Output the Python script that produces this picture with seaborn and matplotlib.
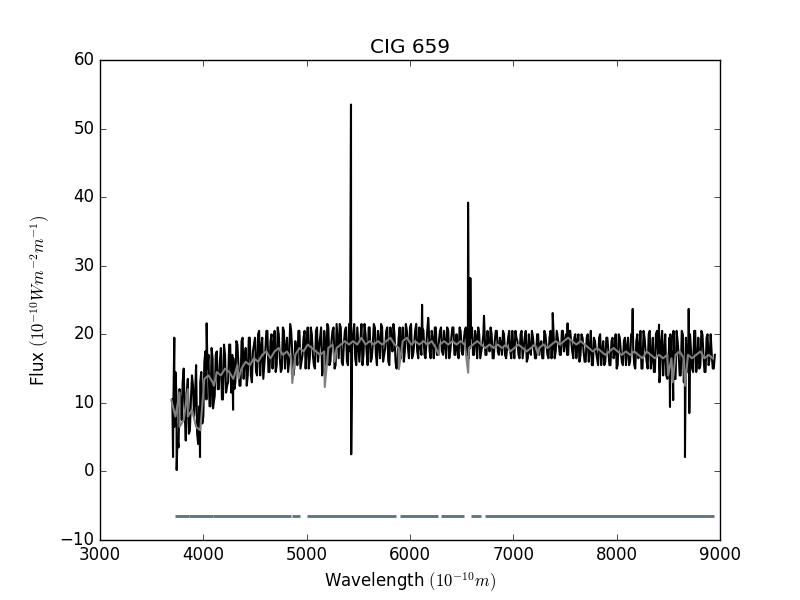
import numpy as np
import pandas as pd
import matplotlib
matplotlib.use('Agg')
import matplotlib.pyplot as plt
import seaborn as sns

plt.style.use('classic')

# observed spectrum, every 20 A from 3710 to 8950
obs_wave = np.arange(3710, 8951, 20)
obs_flux = [
    9.5, 14.5, 5.0, 12.0, 7.5, 15.0, 4.5, 13.5, 6.0, 14.0,      # 3710-3890
    8.0, 15.5, 4.0, 13.0, 7.0, 16.0, 10.5, 17.0, 9.5, 16.5,     # 3910-4090
    11.0, 17.5, 12.0, 18.0, 10.5, 17.0, 12.5, 18.5, 11.5, 16.5, # 4110-4290
    13.0, 18.5, 12.5, 19.0, 13.5, 18.0, 14.0, 19.5, 13.0, 18.5, # 4310-4490
    14.5, 20.0, 14.0, 19.5, 15.5, 20.5, 14.5, 19.0, 15.0, 20.5, # 4510-4690
    15.5, 20.0, 14.5, 21.0, 15.0, 19.5, 16.0, 20.5, 14.0, 19.0, # 4710-4890
    15.5, 20.5, 16.0, 19.5, 15.0, 21.0, 16.5, 20.0, 15.5, 20.5, # 4910-5090
    16.0, 19.5, 14.0, 20.5, 15.5, 21.0, 16.0, 20.5, 15.0, 21.5, # 5110-5290
    16.5, 21.0, 15.5, 20.5, 16.0, 21.5, 15.0, 20.0, 16.5, 21.0, # 5310-5490
    16.0, 21.5, 17.0, 20.0, 15.5, 21.0, 16.5, 21.5, 17.0, 20.5, # 5510-5690
    16.5, 21.0, 17.0, 20.5, 16.0, 21.0, 17.5, 20.0, 15.0, 19.5, # 5710-5890
    16.5, 21.0, 17.5, 20.5, 16.5, 21.5, 17.0, 20.5, 17.5, 21.0, # 5910-6090
    17.0, 20.5, 16.5, 21.0, 17.5, 20.5, 16.5, 21.0, 17.0, 20.5, # 6110-6290
    17.5, 20.5, 16.5, 20.5, 17.5, 21.0, 17.0, 20.0, 16.5, 20.5, # 6310-6490
    17.0, 20.5, 17.5, 16.5, 19.5, 17.0, 20.5, 16.5, 20.0, 17.5, # 6510-6690
    20.0, 17.0, 20.5, 17.5, 20.0, 16.5, 20.5, 17.5, 19.5, 17.0, # 6710-6890
    20.0, 16.5, 19.5, 17.5, 20.5, 16.5, 19.5, 17.0, 20.0, 16.5, # 6910-7090
    19.5, 16.0, 20.0, 17.0, 19.5, 16.5, 20.0, 17.0, 19.0, 16.5, # 7110-7290
    20.0, 17.0, 19.5, 16.5, 20.0, 17.5, 19.5, 17.0, 20.5, 17.5, # 7310-7490
    20.0, 17.0, 20.5, 17.5, 19.5, 16.5, 20.0, 17.0, 19.5, 16.0, # 7510-7690
    19.5, 16.0, 20.5, 15.5, 19.0, 16.5, 19.5, 15.5, 19.0, 16.0, # 7710-7890
    19.5, 15.5, 19.0, 16.5, 20.0, 15.5, 19.5, 16.0, 19.0, 15.5, # 7910-8090
    19.5, 16.0, 20.0, 15.5, 19.0, 16.5, 20.5, 15.0, 19.5, 16.0, # 8110-8290
    20.0, 15.0, 19.5, 14.5, 20.5, 15.5, 19.0, 14.0, 20.0, 13.5, # 8310-8490
    19.5, 14.5, 20.5, 13.5, 19.0, 14.0, 20.5, 13.0, 19.5, 14.5, # 8510-8690
    20.0, 15.0, 20.5, 14.5, 19.5, 15.5, 20.0, 14.5, 19.5, 15.5, # 8710-8890
    20.0, 15.0, 17.0,                                           # 8910-8950
]

# in-between samples of the observed spectrum, 3720 to 8940
mid_wave = np.arange(3720, 8941, 20)
mid_flux = [
    6.5, 11.0, 3.5, 10.0, 13.0, 8.5, 11.5, 5.5, 10.5, 12.5,     # 3720-3900
    11.0, 5.5, 9.5, 14.5, 8.0, 17.5, 15.0, 9.5, 18.0, 10.0,     # 3920-4100
    17.0, 12.0, 16.0, 10.5, 18.5, 11.5, 13.0, 18.5, 17.0, 12.0, # 4120-4300
    19.0, 15.5, 12.5, 19.5, 16.5, 12.5, 19.5, 14.0, 17.5, 19.5, # 4320-4500
    14.0, 20.5, 18.0, 13.5, 17.5, 20.5, 14.5, 20.0, 18.5, 14.5, # 4520-4700
    21.0, 16.5, 15.0, 20.5, 18.0, 14.5, 21.5, 17.5, 15.0, 17.5, # 4720-4900
    20.5, 15.0, 17.0, 20.5, 18.5, 15.0, 21.0, 17.0, 15.0, 21.0, # 4920-5100
    18.0, 21.0, 15.0, 18.5, 21.5, 15.5, 19.0, 21.0, 15.5, 19.0, # 5120-5300
    21.5, 16.0, 18.5, 21.0, 15.5, 17.5, 18.0, 21.5, 15.5, 18.5, # 5320-5500
    19.0, 15.5, 21.5, 17.5, 21.0, 16.0, 18.5, 21.0, 15.5, 19.0, # 5520-5700
    21.5, 16.0, 18.0, 21.0, 15.5, 19.5, 21.5, 16.0, 16.5, 21.0, # 5720-5900
    19.0, 16.0, 21.5, 18.0, 21.0, 16.5, 18.5, 21.5, 16.5, 18.5, # 5920-6100
    21.0, 17.0, 19.0, 21.5, 16.5, 19.0, 21.0, 17.0, 19.0, 21.0, # 6120-6300
    17.0, 18.5, 21.0, 16.5, 19.5, 21.0, 17.0, 18.0, 21.0, 17.5, # 6320-6500
    19.0, 21.0, 17.0, 18.0, 21.0, 17.0, 19.5, 21.0, 16.5, 18.5, # 6520-6700
    21.0, 17.0, 18.5, 21.0, 16.5, 19.0, 20.5, 17.0, 18.5, 20.5, # 6720-6900
    17.0, 18.0, 20.5, 16.5, 18.0, 20.5, 19.0, 16.5, 20.5, 18.0, # 6920-7100
    20.5, 16.5, 17.5, 20.5, 18.0, 16.5, 20.0, 18.5, 16.5, 20.5, # 7120-7300
    18.5, 16.5, 20.5, 19.0, 16.5, 20.5, 18.5, 17.0, 20.5, 19.0, # 7320-7500
    17.0, 20.5, 19.0, 16.5, 20.0, 19.0, 16.0, 20.0, 17.5, 16.0, # 7520-7700
    20.0, 18.0, 15.5, 19.5, 17.5, 15.5, 20.0, 17.5, 15.5, 19.5, # 7720-7900
    17.5, 15.5, 19.5, 17.5, 15.0, 20.0, 17.5, 15.5, 19.5, 18.0, # 7920-8100
    15.5, 20.0, 18.0, 15.0, 20.0, 17.5, 15.0, 20.5, 17.5, 15.0, # 8120-8300
    20.5, 16.5, 14.5, 20.0, 17.0, 14.0, 20.5, 17.5, 14.0, 15.5, # 8320-8500
    20.0, 17.5, 13.5, 20.5, 17.0, 14.0, 20.0, 16.5, 15.5, 20.5, # 8520-8700
    17.5, 14.5, 20.5, 16.0, 15.0, 20.5, 17.0, 14.5, 20.0, 16.5, # 8720-8900
    17.0, 15.0,                                                 # 8920-8940
]

# narrow features / spikes in the observed spectrum
spike_wave = [3700, 3707, 3719, 3742, 3968, 4032, 4094, 4288, 5429, 5431,
              6117, 6176, 6562, 6572, 6584, 6716, 7381, 7525, 8155, 8410,
              8414, 8516, 8547, 8661, 8697, 8703]
spike_flux = [10.5, 2.1, 19.5, 0.2, 2.1, 21.6, 9.2, 9.0, 53.5, 2.5,
              24.3, 22.4, 39.2, 18.0, 28.2, 22.7, 23.1, 21.6, 23.7, 21.4,
              13.0, 9.4, 10.4, 2.1, 23.7, 8.5]

# model fit, every 40 A from 3690 to 8930
fit_wave = np.arange(3690, 8931, 40)
fit_flux = [
    10.4, 8.0, 11.5, 7.5, 12.0, 9.0, 6.5, 6.0, 13.5, 14.0,
    13.0, 14.5, 14.0, 15.0, 14.5, 13.5, 15.5, 15.0, 16.0, 15.5,
    16.5, 16.0, 17.0, 17.5, 16.5, 17.5, 18.0, 17.0, 17.5, 16.5,
    17.0, 18.0, 17.5, 18.5, 18.0, 17.5, 17.0, 17.5, 18.0, 18.5,
    18.0, 18.5, 19.0, 18.5, 19.0, 18.5, 19.5, 18.5, 19.0, 18.5,
    19.0, 18.5, 19.0, 19.5, 18.5, 18.0, 19.0, 19.5, 18.5, 19.0,
    18.5, 19.0, 18.5, 19.0, 18.0, 18.5, 19.0, 18.5, 19.0, 18.5,
    19.0, 18.5, 18.0, 18.5, 19.0, 18.5, 18.0, 18.5, 18.0, 18.5,
    18.0, 18.5, 17.5, 18.0, 18.5, 18.0, 17.5, 18.0, 18.5, 18.0,
    18.5, 18.0, 18.5, 19.0, 18.5, 19.0, 19.5, 19.0, 18.5, 19.0,
    18.5, 18.0, 17.5, 18.0, 17.5, 17.0, 17.5, 18.0, 17.5, 17.0,
    17.5, 17.0, 17.5, 17.0, 16.5, 17.5, 17.0, 16.5, 17.0, 16.5,
    17.0, 16.5, 17.0, 17.5, 16.5, 17.0, 16.5, 17.0, 17.5, 16.5,
    17.0, 16.5,
]
dip_wave = [3770, 3850, 4102, 4340, 4861, 5175, 5270, 5892, 6280, 6563,
            7240, 8498, 8542, 8662]
dip_flux = [6.5, 8.0, 12.5, 13.5, 12.9, 12.3, 16.0, 14.9, 17.0, 14.4,
            17.0, 14.0, 13.0, 12.5]

# masked regions
mask_start = [3721, 3866, 4091, 4857, 5007, 5900, 6300, 6586, 6729]
mask_end = [3862, 4089, 4846, 4936, 5864, 6268, 6525, 6686, 8943]
mask_level = -6.5

obs = pd.DataFrame({'wave': np.concatenate([obs_wave, mid_wave, spike_wave]),
                    'flux': np.concatenate([obs_flux, mid_flux, spike_flux])}).sort_values('wave')
fit = pd.DataFrame({'wave': np.concatenate([fit_wave, dip_wave]),
                    'flux': np.concatenate([fit_flux, dip_flux])}).sort_values('wave')

fig, ax = plt.subplots(figsize=(8, 6), dpi=100)
sns.lineplot(data=obs, x='wave', y='flux', color='black', lw=1.5,
             estimator=None, sort=False, ax=ax)
sns.lineplot(data=fit, x='wave', y='flux', color='gray', lw=1.5,
             estimator=None, sort=False, ax=ax)
ax.hlines([mask_level] * len(mask_start), mask_start, mask_end,
          color='#5f6f78', lw=2)

ax.set_xlim(3000, 9000)
ax.set_ylim(-10, 60)
ax.set_title('CIG 659')
ax.set_xlabel(r'Wavelength $(10^{-10} m)$')
ax.set_ylabel(r'Flux $(10^{-10} W m^{-2} m^{-1})$')
plt.savefig('out.png', dpi=100)
